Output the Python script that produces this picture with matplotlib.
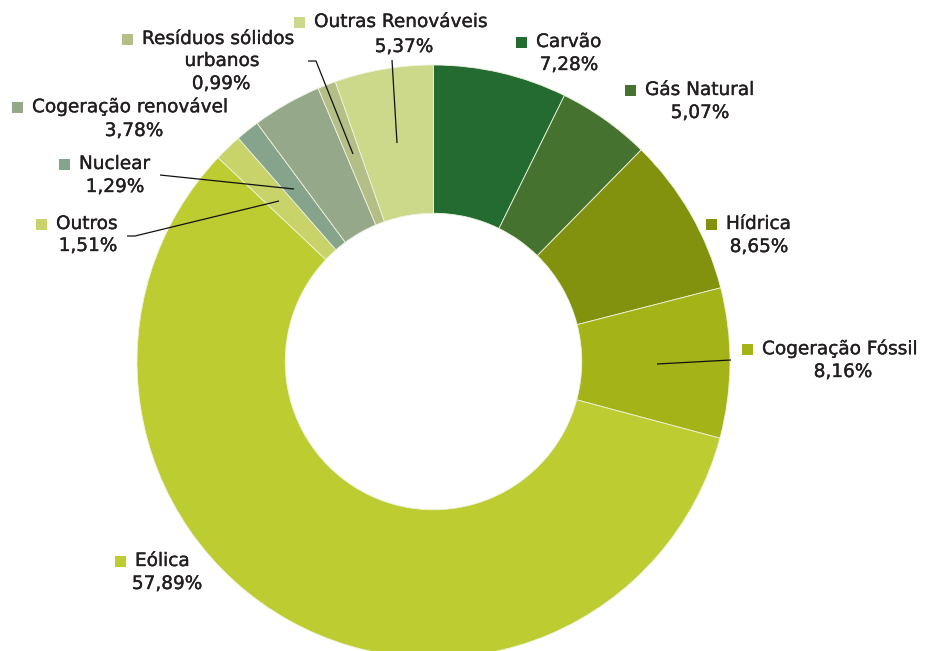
import matplotlib
matplotlib.use("Agg")
import matplotlib.pyplot as plt
import matplotlib.patheffects as pe
from matplotlib.patches import Rectangle

# Share of each source (%)
categories = ["Carvão", "Gás Natural", "Hídrica", "Cogeração Fóssil", "Eólica",
              "Outros", "Nuclear", "Cogeração renovável",
              "Resíduos sólidos\nurbanos", "Outras Renováveis"]
values = [7.28, 5.07, 8.65, 8.16, 57.89, 1.51, 1.29, 3.78, 0.99, 5.37]
pct_labels = ["7,28%", "5,07%", "8,65%", "8,16%", "57,89%",
              "1,51%", "1,29%", "3,78%", "0,99%", "5,37%"]
colors = ["#246b32", "#467230", "#83920e", "#a4b418", "#bdcd31",
          "#c8d46a", "#86a38b", "#95a98a", "#b3bf86", "#ccd98a"]

W, H = 930, 651
fig = plt.figure(figsize=(W / 100, H / 100), dpi=100)
ax = fig.add_axes([0, 0, 1, 1])

def py(y):
    # convert a top-down pixel row into the axes' bottom-up coordinate
    return H - y

cx, cy, R = 433.5, 361.5, 296.5
ax.pie(values, colors=colors, radius=R, center=(cx, py(cy)), startangle=90,
       counterclock=False,
       wedgeprops=dict(width=R * 0.5, edgecolor="#eef2dc", linewidth=0.6))
ax.set_xlim(0, W)
ax.set_ylim(0, H)
ax.set_aspect("auto")
ax.axis("off")

FONT = "DejaVu Sans"
FS = 13.3
TXT = "#231f20"
heavier = [pe.withStroke(linewidth=0.25, foreground=TXT)]

# (square left x, name row y, percent centre x, percent row y)
layout = {
    "Carvão": (516, 42, 569, 65),
    "Gás Natural": (625, 90, 700, 113),
    "Hídrica": (706, 224, 759, 247),
    "Cogeração Fóssil": (742, 349, 843, 372),
    "Eólica": (115, 561, 167, 584),
    "Outros": (36, 224, 88, 246),
    "Nuclear": (59, 164, 115, 187),
    "Cogeração renovável": (12, 107, 134, 131),
    "Resíduos sólidos\nurbanos": (122, 39, 221, 84),
    "Outras Renováveis": (294, 22, 404, 47),
}

for name, pct, col in zip(categories, pct_labels, colors):
    sx, ny, pxc, pyy = layout[name]
    ax.add_patch(Rectangle((sx, py(ny) - 5.5), 11, 11, color=col, lw=0))
    lines = name.split("\n")
    ax.text(sx + 20, py(ny), lines[0], ha="left", va="center",
            fontsize=FS, family=FONT, color=TXT, path_effects=heavier)
    if len(lines) > 1:
        ax.text(222, py(61), lines[1], ha="center", va="center",
                fontsize=FS, family=FONT, color=TXT, path_effects=heavier)
    ax.text(pxc, py(pyy), pct, ha="center", va="center",
            fontsize=FS, family=FONT, color=TXT, path_effects=heavier)

# leader lines
leaders = [
    [(392, 60), (397, 143)],
    [(308, 61), (316, 61), (353, 154)],
    [(160, 175), (294, 189)],
    [(127, 236), (135, 236), (279, 201)],
    [(657, 364), (731, 360)],
]
for pts in leaders:
    xs = [p[0] for p in pts]
    ys = [py(p[1]) for p in pts]
    ax.plot(xs, ys, color="#111111", lw=0.9, solid_capstyle="butt")

fig.savefig("out.png", dpi=100)
